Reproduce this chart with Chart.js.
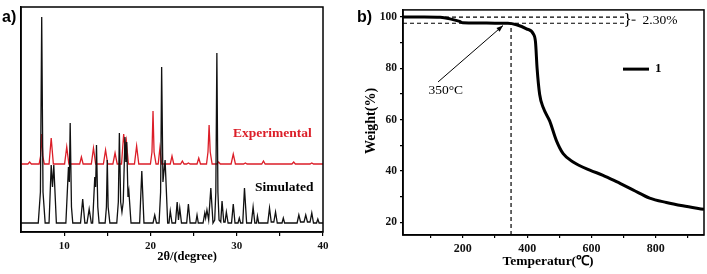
<!DOCTYPE html>
<html>
<head>
<meta charset="utf-8">
<script src="https://cdn.jsdelivr.net/npm/chart.js@4.4.1/dist/chart.umd.min.js"></script>
<style>
  body { margin: 0; background: #fff; width: 707px; height: 274px; overflow: hidden; position: relative; }
  canvas { position: absolute; top: 0; }
  #xrd { left: 0; }
  #tga { left: 350px; }
</style>
</head>
<body>
<canvas id="xrd" width="350" height="274"></canvas>
<canvas id="tga" width="357" height="274"></canvas>
<script>
// ---- panel a: powder XRD (intensity in arbitrary units) ----
var simTheta = [5, 7.0, 7.25, 7.4, 7.55, 7.8,
  8.25, 8.5, 8.65, 8.8, 9.1,
  10.2, 10.5, 10.6, 10.7, 10.85, 11.0,
  11.9, 12.15, 12.4,
  12.65, 12.9, 13.15,
  13.3, 13.55, 13.65, 13.75, 13.9, 14.05,
  14.75, 14.9, 15.0, 15.1, 15.3,
  16.1, 16.28, 16.4, 16.55, 16.7, 16.85, 17.05, 17.15, 17.25, 17.4, 17.5, 17.75,
  18.75, 19.0, 19.25,
  20.3, 20.5, 20.7,
  21.0, 21.18, 21.3, 21.45, 21.7, 22.0,
  22.15, 22.3, 22.5,
  22.9, 23.1, 23.25, 23.4, 23.6,
  24.2, 24.4, 24.6,
  25.25, 25.4, 25.55,
  26.1, 26.3, 26.4, 26.55, 26.75, 27.0, 27.25,
  27.45, 27.58, 27.7, 27.82, 27.95, 28.15, 28.3, 28.5,
  28.65, 28.8, 29.0,
  29.4, 29.6, 29.8,
  30.15, 30.3, 30.45,
  30.7, 30.9, 31.15,
  31.7, 31.9, 32.1,
  32.3, 32.4, 32.55,
  33.6, 33.8, 34.0, 34.3, 34.5, 34.7,
  35.25, 35.4, 35.55,
  37.0, 37.2, 37.4, 37.8, 38.0, 38.2, 38.5, 38.7, 38.9,
  39.25, 39.4, 39.55, 40];
var simCounts = [9, 9, 40, 215, 40, 9,
  9, 67, 45, 67, 9,
  9, 65, 50, 109, 25, 9,
  9, 33, 9,
  9, 23, 9,
  9, 55, 45, 87, 25, 9,
  9, 25, 72, 25, 9,
  9, 30, 99, 30, 20, 30, 95, 70, 90, 35, 41, 9,
  9, 61, 9,
  9, 17, 9,
  9, 40, 165, 50, 72, 9,
  9, 21, 9,
  9, 30, 12, 24, 9,
  9, 28, 9,
  9, 17, 9,
  9, 19, 14, 22, 12, 44, 9,
  12, 40, 179, 40, 12, 10, 31, 10,
  10, 20, 9,
  9, 28, 9,
  9, 14, 9,
  9, 44, 9,
  9, 25, 9,
  9, 16, 9,
  9, 24, 10, 10, 20, 9,
  9, 14, 9,
  9, 17, 10, 10, 17, 10, 10, 19, 9,
  9, 13, 9, 9];

var expTheta = [5, 5.8, 6.0, 6.2,
  7.1, 7.27, 7.4, 7.53, 7.7,
  8.25, 8.5, 8.75,
  10.05, 10.3, 10.55,
  11.8, 12.0, 12.2,
  13.15, 13.4, 13.65,
  14.55, 14.8, 15.05,
  15.65, 15.9, 16.15,
  16.65, 16.9, 17.05, 17.2, 17.45,
  18.15, 18.4, 18.65,
  20.0, 20.18, 20.3, 20.42, 20.65,
  20.9, 21.1, 21.3,
  22.3, 22.5, 22.7,
  23.5, 23.7, 23.9,
  24.2, 24.4, 24.6,
  25.4, 25.6, 25.8,
  26.5, 26.67, 26.8, 26.93, 27.15,
  27.7, 27.9, 28.1,
  29.35, 29.6, 29.85,
  30.8, 31.0, 31.2,
  32.9, 33.1, 33.3,
  36.4, 36.6, 36.8,
  38.5, 38.7, 38.9, 40];
var expCounts = [68, 68, 70, 68,
  68, 76, 98, 76, 68,
  68, 94, 68,
  68, 85, 68,
  68, 75, 68,
  68, 84, 68,
  68, 82, 68,
  68, 79, 68,
  68, 98, 85, 92, 68,
  68, 86, 68,
  68, 80, 121, 80, 68,
  68, 84, 68,
  68, 76, 68,
  68, 71, 68,
  68, 69, 68,
  68, 74, 68,
  68, 80, 107, 80, 68,
  68, 70, 68,
  68, 78, 68,
  68, 69, 68,
  68, 71, 68,
  68, 70, 68,
  68, 69, 68, 68];

var xrdTicks = [10, 15, 20, 25, 30, 35, 40];
var xrdTickLabels = [10, 20, 30, 40];

// ---- panel b: TGA ----
var tgaTemp = [14, 80, 130, 160, 190, 200, 250, 300, 340, 367, 398, 419, 426, 431, 439, 450, 470, 491,
  512, 543, 595, 636, 678, 729, 781, 833, 884, 950];
var tgaWeight = [100, 100, 99.9, 99.3, 98.3, 97.8, 97.7, 97.6, 97.6, 97.0, 95.4, 93.5, 90.3, 80, 69.8,
  64.7, 59.5, 51.8, 46.7, 43.5, 40.3, 38.3, 35.8, 32.6, 29.4, 27.7, 26.4, 25.0];

var tempTicks = [100, 200, 300, 400, 500, 600, 700, 800, 900];
var tempTickLabels = [200, 400, 600, 800];
var weightTicks = [20, 30, 40, 50, 60, 70, 80, 90, 100];
var weightTickLabels = [20, 40, 60, 80, 100];

var serif = '"Liberation Serif", "Times New Roman", serif';
var red = '#dc1e28';

function pairs(xs, ys) {
  return xs.map(function(x, i) { return { x: x, y: ys[i] }; });
}

function fixedTicks(values) {
  return function(s) {
    s.ticks = values.map(function(v) { return { value: v }; });
  };
}

// frame + text for panel a
var xrdDeco = {
  id: 'xrdDeco',
  afterDraw: function(chart) {
    var ctx = chart.ctx;
    var a = chart.chartArea;
    ctx.save();
    ctx.strokeStyle = '#000';
    ctx.lineWidth = 1.5;
    ctx.strokeRect(a.left, a.top, a.right - a.left, a.bottom - a.top);

    ctx.fillStyle = '#000';
    ctx.font = 'bold 16px "Liberation Sans", Arial, sans-serif';
    ctx.textBaseline = 'middle';
    ctx.textAlign = 'left';
    ctx.fillText('a)', 2, 18);

    ctx.font = 'bold 13.5px ' + serif;
    ctx.fillStyle = red;
    ctx.fillText('Experimental', 233, 134);
    ctx.fillStyle = '#000';
    ctx.fillText('Simulated', 255, 188);

    ctx.font = 'bold 12.5px ' + serif;
    ctx.textAlign = 'center';
    ctx.fillText('2\u03b8/(degree)', 187, 257);
    ctx.restore();
  }
};

new Chart(document.getElementById('xrd'), {
  type: 'line',
  data: {
    datasets: [{
      label: 'Simulated',
      data: pairs(simTheta, simCounts),
      borderColor: '#111',
      borderWidth: 1.3,
      pointRadius: 0,
      tension: 0
    }, {
      label: 'Experimental',
      data: pairs(expTheta, expCounts),
      borderColor: red,
      borderWidth: 1.3,
      pointRadius: 0,
      tension: 0
    }]
  },
  options: {
    responsive: false,
    animation: false,
    layout: { padding: { left: 0, right: 27, top: 7, bottom: 0 } },
    plugins: { legend: { display: false }, tooltip: { enabled: false } },
    scales: {
      x: {
        type: 'linear',
        min: 5,
        max: 40,
        afterFit: function(s) { s.height = 42; },
        afterBuildTicks: fixedTicks(xrdTicks),
        ticks: {
          padding: 4,
          color: '#111',
          font: { family: serif, size: 11, weight: 'bold' },
          maxRotation: 0,
          autoSkip: false,
          callback: function(v) { return xrdTickLabels.indexOf(v) >= 0 ? String(v) : ''; }
        },
        grid: { drawOnChartArea: false, drawTicks: true, tickLength: 4, color: '#000', lineWidth: 1.2 },
        border: { display: true, color: '#000', width: 1.5 }
      },
      y: {
        min: 0,
        max: 225,
        afterFit: function(s) { s.width = 21; },
        ticks: { display: false },
        grid: { display: false },
        border: { display: true, color: '#000', width: 1.5 }
      }
    }
  },
  plugins: [xrdDeco]
});

// annotations for panel b
var tgaDeco = {
  id: 'tgaDeco',
  afterDraw: function(chart) {
    var ctx = chart.ctx;
    var a = chart.chartArea;
    var xs = chart.scales.x;
    var ys = chart.scales.y;
    ctx.save();
    ctx.strokeStyle = '#000';
    ctx.lineWidth = 1.5;
    ctx.strokeRect(a.left, a.top, a.right - a.left, a.bottom - a.top);

    // dashed guide lines
    ctx.lineWidth = 1.2;
    ctx.setLineDash([4, 3]);
    var xEnd = xs.getPixelForValue(703);
    var y100 = ys.getPixelForValue(100);
    var y976 = ys.getPixelForValue(97.6);
    ctx.beginPath();
    ctx.moveTo(a.left, y100); ctx.lineTo(xEnd, y100);
    ctx.moveTo(a.left, y976); ctx.lineTo(xEnd, y976);
    var x350 = xs.getPixelForValue(350);
    ctx.moveTo(x350, a.bottom); ctx.lineTo(x350, ys.getPixelForValue(97.4));
    ctx.stroke();
    ctx.setLineDash([]);

    // brace and 2.30%
    ctx.fillStyle = '#000';
    ctx.font = '17px ' + serif;
    ctx.textBaseline = 'middle';
    ctx.textAlign = 'left';
    var yMid = (y100 + y976) / 2;
    ctx.fillText('}', xEnd - 1, yMid);
    ctx.lineWidth = 1;
    ctx.beginPath();
    ctx.moveTo(xEnd + 7, yMid); ctx.lineTo(xEnd + 11, yMid);
    ctx.stroke();
    ctx.font = '13.5px ' + serif;
    ctx.fillText('2.30%', xEnd + 18, yMid);

    // arrow to onset
    var x0 = xs.getPixelForValue(123), y0 = ys.getPixelForValue(74.7);
    var x1 = xs.getPixelForValue(325), y1 = ys.getPixelForValue(96.7);
    ctx.lineWidth = 1;
    ctx.beginPath();
    ctx.moveTo(x0, y0); ctx.lineTo(x1, y1);
    ctx.stroke();
    var ang = Math.atan2(y1 - y0, x1 - x0);
    ctx.beginPath();
    ctx.moveTo(x1, y1);
    ctx.lineTo(x1 - 7 * Math.cos(ang - 0.35), y1 - 7 * Math.sin(ang - 0.35));
    ctx.lineTo(x1 - 7 * Math.cos(ang + 0.35), y1 - 7 * Math.sin(ang + 0.35));
    ctx.closePath();
    ctx.fill();
    ctx.textAlign = 'center';
    ctx.font = '13.5px ' + serif;
    ctx.fillText('350\u00b0C', xs.getPixelForValue(147), ys.getPixelForValue(71.3));

    // legend
    var ly = ys.getPixelForValue(79.7);
    ctx.lineWidth = 3;
    ctx.beginPath();
    ctx.moveTo(273, ly); ctx.lineTo(299, ly);
    ctx.stroke();
    ctx.font = 'bold 13px ' + serif;
    ctx.textAlign = 'left';
    ctx.fillText('1', 305, ly);

    // panel label and axis titles
    ctx.font = 'bold 16px "Liberation Sans", Arial, sans-serif';
    ctx.fillText('b)', 7, 18);
    ctx.font = 'bold 13.5px ' + serif;
    ctx.textAlign = 'center';
    ctx.fillText('Temperatur(\u2103)', 198, 262);
    ctx.translate(21, 121);
    ctx.rotate(-Math.PI / 2);
    ctx.font = 'bold 14px ' + serif;
    ctx.fillText('Weight(%)', 0, 0);
    ctx.restore();
  }
};

new Chart(document.getElementById('tga'), {
  type: 'line',
  data: {
    datasets: [{
      label: '1',
      data: pairs(tgaTemp, tgaWeight),
      borderColor: '#000',
      borderWidth: 3,
      pointRadius: 0,
      cubicInterpolationMode: 'monotone'
    }]
  },
  options: {
    responsive: false,
    animation: false,
    layout: { padding: { left: 0, right: 3, top: 7, bottom: 0 } },
    plugins: { legend: { display: false }, tooltip: { enabled: false } },
    scales: {
      x: {
        type: 'linear',
        min: 14,
        max: 950,
        afterFit: function(s) { s.height = 39; },
        afterBuildTicks: fixedTicks(tempTicks),
        ticks: {
          padding: 4,
          color: '#111',
          font: { family: serif, size: 12, weight: 'bold' },
          maxRotation: 0,
          autoSkip: false,
          callback: function(v) { return tempTickLabels.indexOf(v) >= 0 ? String(v) : ''; }
        },
        grid: { drawOnChartArea: false, drawTicks: true, tickLength: 3, color: '#000', lineWidth: 1.2 },
        border: { display: true, color: '#000', width: 1.5 }
      },
      y: {
        min: 15,
        max: 102.8,
        afterFit: function(s) { s.width = 53; },
        afterBuildTicks: fixedTicks(weightTicks),
        ticks: {
          padding: 3,
          color: '#111',
          font: { family: serif, size: 11.5, weight: 'bold' },
          autoSkip: false,
          callback: function(v) { return weightTickLabels.indexOf(v) >= 0 ? String(v) : ''; }
        },
        grid: { drawOnChartArea: false, drawTicks: true, tickLength: 3, color: '#000', lineWidth: 1.2 },
        border: { display: true, color: '#000', width: 1.5 }
      }
    }
  },
  plugins: [tgaDeco]
});
</script>
</body>
</html>
